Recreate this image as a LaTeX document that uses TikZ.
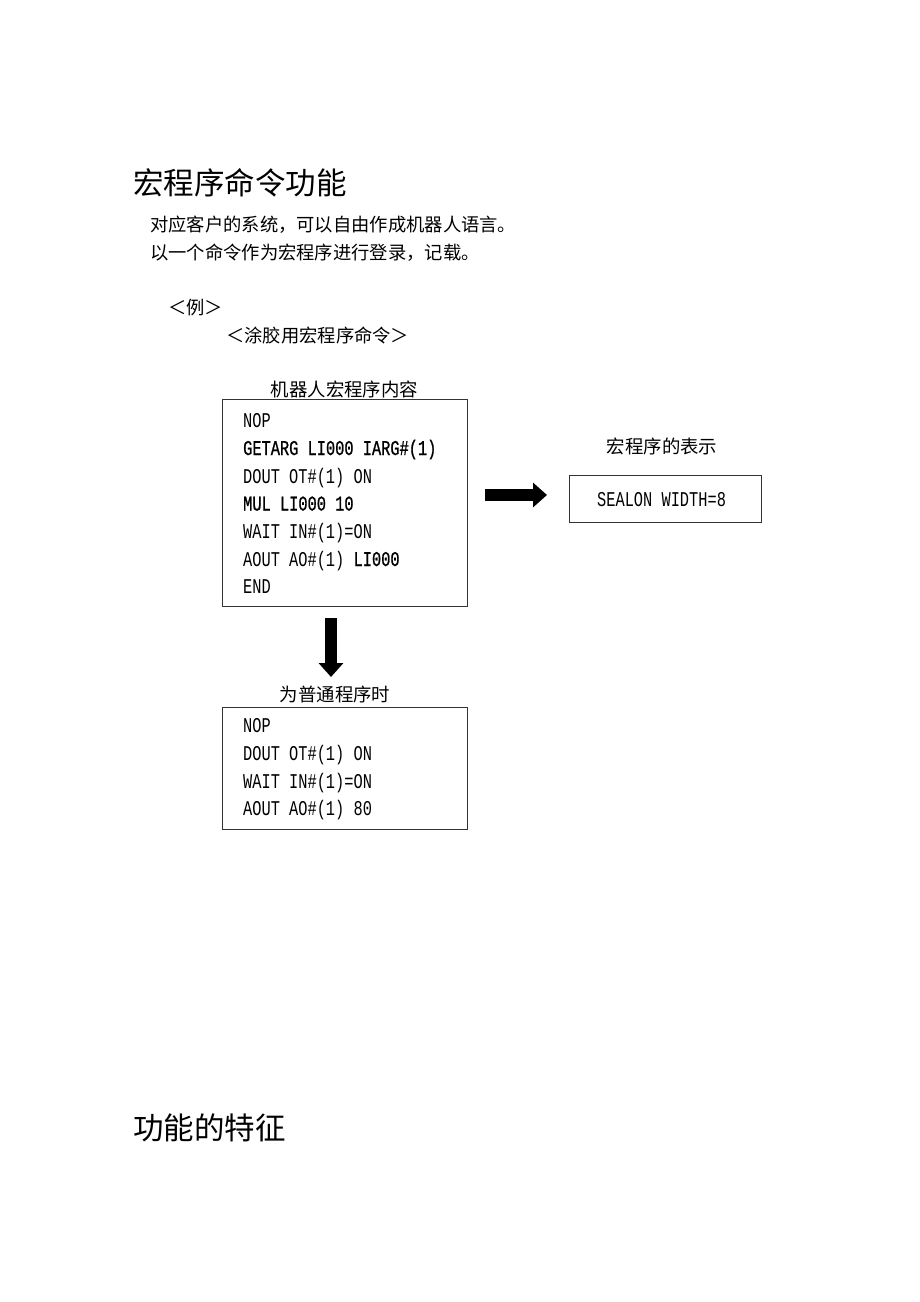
\documentclass[tikz,border=0pt]{standalone}
\usepackage{fontspec}
\usetikzlibrary{arrows.meta}
\newfontfamily\cjk{Noto Sans CJK SC}
\newfontfamily\mono[FakeStretch=0.73]{Liberation Mono}
\newfontfamily\monob[FakeStretch=0.73,FakeBold=0.9]{Liberation Mono}
\definecolor{boxline}{HTML}{333333}
\tikzset{
  titletxt/.style={anchor=base west, inner sep=0pt, font=\cjk\fontsize{30.5}{30.5}\selectfont},
  bodytxt/.style={anchor=base west, inner sep=0pt, font=\cjk\fontsize{18.3}{18.3}\selectfont},
  labeltxt/.style={anchor=base, inner sep=0pt, font=\cjk\fontsize{18.4}{18.4}\selectfont},
  codetxt/.style={anchor=base west, inner sep=0pt, font=\mono\fontsize{21}{21}\selectfont},
  codebold/.style={codetxt, font=\monob\fontsize{21}{21}\selectfont},
  framebox/.style={draw=boxline, line width=1pt},
  blockarrow/.style={line width=12pt, -{Triangle[length=14pt,width=24pt]}}
}
\begin{document}
\begin{tikzpicture}[x=1pt,y=-1pt]
\useasboundingbox[fill=white] (0,0) rectangle (920,1302);

% headings and intro text
\node[titletxt] (t1) at (133,194) {宏程序命令功能};
\node[bodytxt] (b1) at (150,231) {对应客户的系统，可以自由作成机器人语言。};
\node[bodytxt] (b2) at (150,259) {以一个命令作为宏程序进行登录，记载。};
\node[bodytxt] (ex) at (168,314) {＜例＞};
\node[bodytxt] (ex2) at (226,342) {＜涂胶用宏程序命令＞};

% box 1
\node[framebox, minimum width=245pt, minimum height=207pt, inner sep=0pt] (box1) at (344.5,502.5) {};
\node[labeltxt] (l1) at (344.5,396) {机器人宏程序内容};
\node[codetxt]  (c1) at (243,427) {NOP};
\node[codebold] (c2) at (243,455) {GETARG LI000 IARG\#(1)};
\node[codetxt]  (c3) at (243,483) {DOUT OT\#(1) ON};
\node[codebold] (c4) at (243,510.5) {MUL LI000 10};
\node[codetxt]  (c5) at (243,538.5) {WAIT IN\#(1)=ON};
\node[codetxt]  (c6) at (243,566) {AOUT AO\#(1) {\monob LI000}};
\node[codetxt]  (c7) at (243,593) {END};

% macro display box
\node[labeltxt] (l2) at (662,453) {宏程序的表示};
\node[framebox, minimum width=192pt, minimum height=47pt, inner sep=0pt] (box3) at (665,498.5) {};
\node[codetxt] (s1) at (597,506) {SEALON WIDTH=8};

% box 2
\node[labeltxt] (l3) at (335,701) {为普通程序时};
\node[framebox, minimum width=245pt, minimum height=122pt, inner sep=0pt] (box2) at (344.5,768) {};
\node[codetxt] (d1) at (243,732) {NOP};
\node[codetxt] (d2) at (243,760) {DOUT OT\#(1) ON};
\node[codetxt] (d3) at (243,788) {WAIT IN\#(1)=ON};
\node[codetxt] (d4) at (243,815) {AOUT AO\#(1) 80};

% arrows
\coordinate (ra1) at (485,495);
\coordinate (ra2) at (547,495);
\draw[blockarrow] (ra1) -- (ra2);
\coordinate (da1) at (331,618);
\coordinate (da2) at (331,677);
\draw[blockarrow] (da1) -- (da2);

% second heading
\node[titletxt] (t2) at (133,1139) {功能的特征};
\end{tikzpicture}
\end{document}
